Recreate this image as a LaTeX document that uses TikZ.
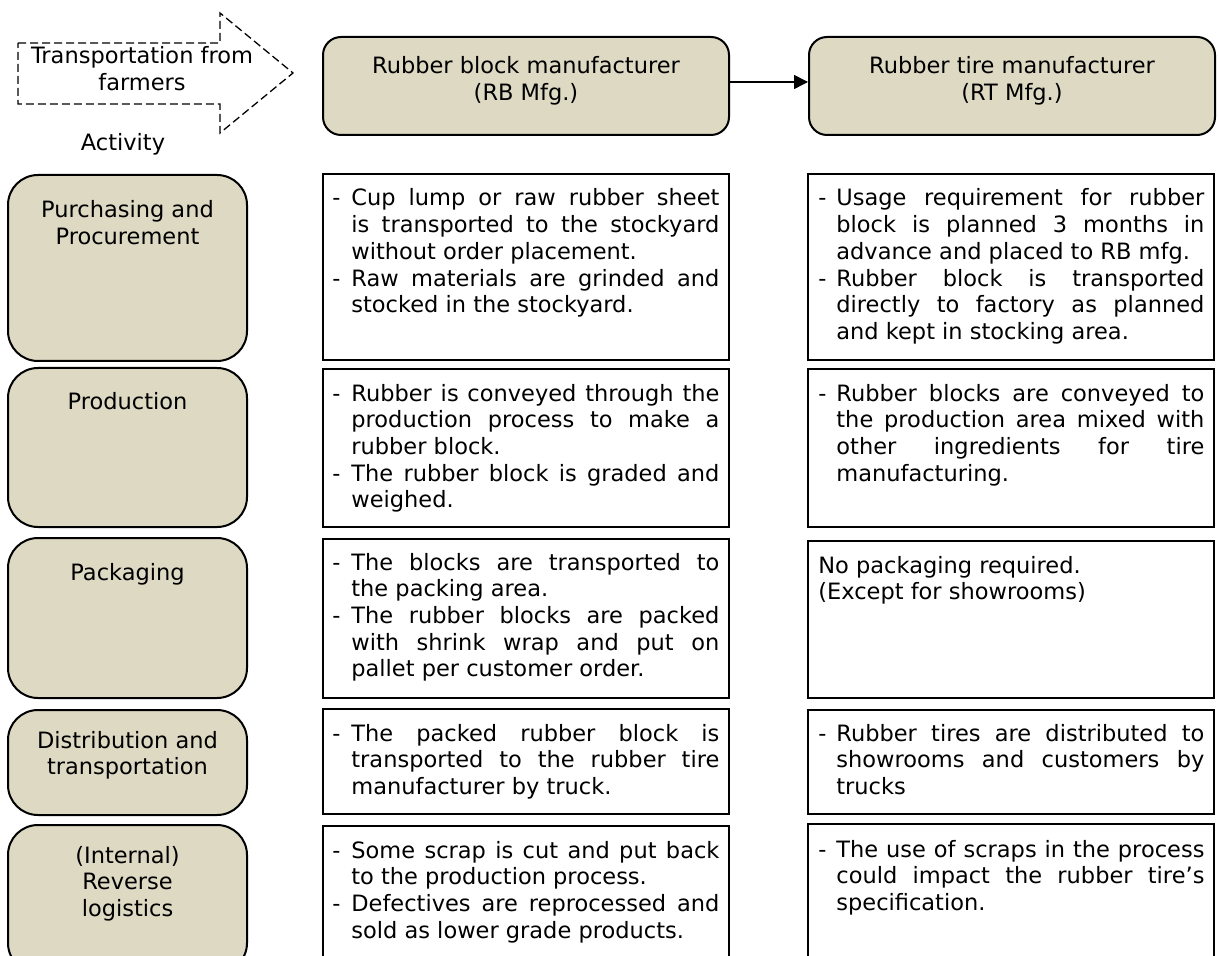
\documentclass[tikz,border=0pt]{standalone}
\usepackage{fontspec}
\setmainfont{DejaVu Sans}
\usetikzlibrary{arrows.meta}
\definecolor{actfill}{HTML}{DDD9C3}

% bullet lines: hanging dash, justified body lines, ragged last line
\newlength\hangw \setlength\hangw{9.5pt}
\newlength\linew \setlength\linew{184pt}
\newcommand\bfirst[1]{\makebox[\hangw][l]{-}\makebox[\linew][s]{#1}}
\newcommand\bmid[1]{\hspace*{\hangw}\makebox[\linew][s]{#1}}
\newcommand\blast[1]{\hspace*{\hangw}#1}
\newcommand\bsingle[1]{\makebox[\hangw][l]{-}#1}
\newcommand\cellpar[1]{\parbox[t]{\dimexpr\hangw+\linew\relax}{#1}}
\newcommand\ctrpar[1]{\parbox[t]{140pt}{\centering #1}}

\begin{document}
\begin{tikzpicture}[x=0.5pt,y=-0.5pt,
  bodyfont/.style={font=\fontsize{11.25pt}{13.35pt}\selectfont},
  act/.style={draw, line width=1pt, fill=actfill, rounded corners=15pt,
    minimum width=119.5pt, inner sep=0pt},
  hdr/.style={draw, line width=1pt, fill=actfill, rounded corners=9pt,
    minimum width=203pt, minimum height=49pt, inner sep=0pt},
  cell/.style={draw, line width=1pt, minimum width=203pt, inner sep=0pt},
  txt/.style={bodyfont, inner sep=0pt, anchor=base west},
  ctr/.style={bodyfont, inner sep=0pt, anchor=base},
  conn/.style={line width=0.75pt, -{Triangle[length=7pt,width=7pt]}},
  flowarrow/.style={draw, line width=0.65pt, dash pattern=on 4pt off 2pt}]

\useasboundingbox (0,0) rectangle (1218,956);
\clip (0,0) rectangle (1218,956);

% inbound flow from the farmers
\draw[flowarrow] (18,43) -- (220,43) -- (220,13) -- (293,73) -- (220,133)
  -- (220,104) -- (18,104) -- cycle;
\node[ctr] (farm) at (142,64) {\ctrpar{Transportation from\\farmers}};
\node[ctr] (actlabel) at (123,150.5) {\ctrpar{Activity}};

% manufacturer headers
\node[hdr] (rb) at (526,86) {};
\node[hdr] (rt) at (1012,86) {};
\node[ctr] (rbt) at (526,74) {\parbox[t]{200pt}{\centering Rubber block manufacturer\\(RB Mfg.)}};
\node[ctr] (rtt) at (1012,74) {\parbox[t]{200pt}{\centering Rubber tire manufacturer\\(RT Mfg.)}};
\draw[conn] ([yshift=2pt]rb.east) -- ([yshift=2pt]rt.west);

% activity column
\node[act, minimum height=93pt]   (a1) at (127.5,268) {};
\node[act, minimum height=79.5pt] (a2) at (127.5,447.5) {};
\node[act, minimum height=80pt]   (a3) at (127.5,618) {};
\node[act, minimum height=52.5pt] (a4) at (127.5,762.5) {};
\node[act, minimum height=74pt]   (a5) at (127.5,899) {};
\node[ctr] (a1t) at (127.5,218) {\ctrpar{Purchasing and\\Procurement}};
\node[ctr] (a2t) at (127.5,409) {\ctrpar{Production}};
\node[ctr] (a3t) at (127.5,580) {\ctrpar{Packaging}};
\node[ctr] (a4t) at (127.5,748) {\ctrpar{Distribution and\\transportation}};
\node[ctr] (a5t) at (127.5,863) {\ctrpar{(Internal)\\Reverse\\logistics}};

% rubber block manufacturer column
\node[cell, minimum height=93pt]   (b1) at (526,267) {};
\node[cell, minimum height=79pt]   (b2) at (526,448) {};
\node[cell, minimum height=79.5pt] (b3) at (526,618.5) {};
\node[cell, minimum height=52.5pt] (b4) at (526,761.5) {};
\node[cell, minimum height=75pt]   (b5) at (526,901) {};

\node[txt] (b1t) at (332,206) {\cellpar{%
  \bfirst{Cup lump or raw rubber sheet}\\
  \bmid{is transported to the stockyard}\\
  \blast{without order placement.}\\
  \bfirst{Raw materials are grinded and}\\
  \blast{stocked in the stockyard.}}};
\node[txt] (b2t) at (332,401) {\cellpar{%
  \bfirst{Rubber is conveyed through the}\\
  \bmid{production process to make a}\\
  \blast{rubber block.}\\
  \bfirst{The rubber block is graded and}\\
  \blast{weighed.}}};
\node[txt] (b3t) at (332,570) {\cellpar{%
  \bfirst{The blocks are transported to}\\
  \blast{the packing area.}\\
  \bfirst{The rubber blocks are packed}\\
  \bmid{with shrink wrap and put on}\\
  \blast{pallet per customer order.}}};
\node[txt] (b4t) at (332,741) {\cellpar{%
  \bfirst{The packed rubber block is}\\
  \bmid{transported to the rubber tire}\\
  \blast{manufacturer by truck.}}};
\node[txt] (b5t) at (332,858) {\cellpar{%
  \bfirst{Some scrap is cut and put back}\\
  \blast{to the production process.}\\
  \bfirst{Defectives are reprocessed and}\\
  \blast{sold as lower grade products.}}};

% rubber tire manufacturer column
\node[cell, minimum height=93pt]   (c1) at (1011,267) {};
\node[cell, minimum height=79pt]   (c2) at (1011,448) {};
\node[cell, minimum height=78.5pt] (c3) at (1011,619.5) {};
\node[cell, minimum height=52pt]   (c4) at (1011,762) {};
\node[cell, minimum height=75.5pt] (c5) at (1011,899.5) {};

\begin{scope}[every node/.append style={execute at begin node={\setlength\hangw{9pt}}}]
\node[txt] (c1t) at (818,206) {\cellpar{%
  \bfirst{Usage requirement for rubber}\\
  \bmid{block is planned 3 months in}\\
  \blast{advance and placed to RB mfg.}\\
  \bfirst{Rubber block is transported}\\
  \bmid{directly to factory as planned}\\
  \blast{and kept in stocking area.}}};
\node[txt] (c2t) at (818,401) {\cellpar{%
  \bfirst{Rubber blocks are conveyed to}\\
  \bmid{the production area mixed with}\\
  \bmid{other ingredients for tire}\\
  \blast{manufacturing.}}};
\node[txt] (c3t) at (818,573) {\cellpar{%
  No packaging required.\\
  (Except for showrooms)}};
\node[txt] (c4t) at (818,741) {\cellpar{%
  \bfirst{Rubber tires are distributed to}\\
  \bmid{showrooms and customers by}\\
  \blast{trucks}}};
\node[txt] (c5t) at (818,857) {\cellpar{%
  \bfirst{The use of scraps in the process}\\
  \bmid{could impact the rubber tire’s}\\
  \blast{specification.}}};
\end{scope}

\end{tikzpicture}
\end{document}
